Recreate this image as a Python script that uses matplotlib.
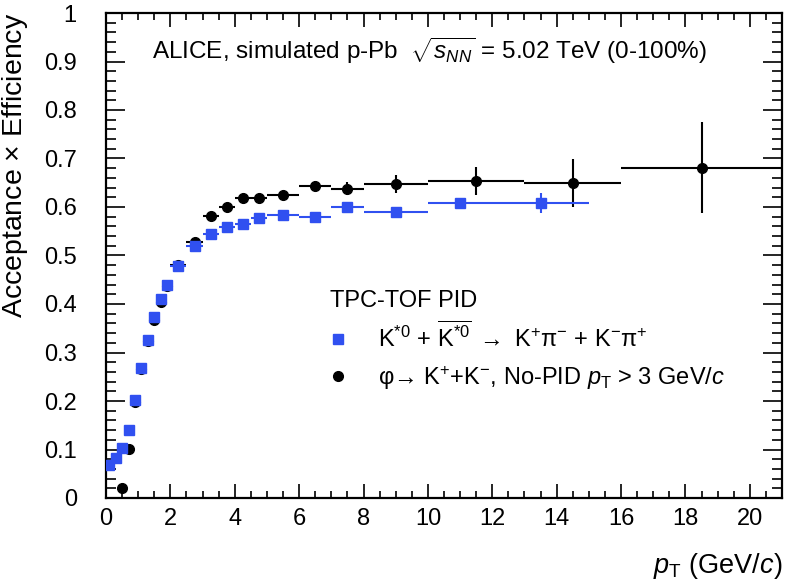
import numpy as np
import matplotlib
matplotlib.use("Agg")
import matplotlib.pyplot as plt
from matplotlib.lines import Line2D
from matplotlib.ticker import MultipleLocator, FuncFormatter

plt.rcParams["font.family"] = ["Liberation Sans", "DejaVu Sans"]
plt.rcParams["mathtext.fontset"] = "custom"
plt.rcParams["mathtext.rm"] = "Liberation Sans"
plt.rcParams["mathtext.it"] = "Liberation Sans:italic"
plt.rcParams["mathtext.bf"] = "Liberation Sans:bold"

# --- K*0 (TPC-TOF PID) ---
kstar_pt = [0.1, 0.3, 0.5, 0.7, 0.9, 1.1, 1.3, 1.5, 1.7, 1.9, 2.25, 2.75, 3.25, 3.75,
            4.25, 4.75, 5.5, 6.5, 7.5, 9.0, 11.0, 13.5]
kstar_dpt = [0.1] * 10 + [0.25] * 6 + [0.5, 0.5, 0.5, 1.0, 1.0, 1.5]
kstar_eff = [0.069, 0.083, 0.104, 0.140, 0.202, 0.269, 0.326, 0.373, 0.410, 0.439, 0.478,
             0.520, 0.544, 0.558, 0.565, 0.577, 0.584, 0.579, 0.599, 0.590, 0.608, 0.608]
kstar_err = [0.002] * 14 + [0.003, 0.003, 0.004, 0.004, 0.005, 0.005, 0.010, 0.021]

# --- phi ---
phi_pt = [0.5, 0.7, 0.9, 1.1, 1.3, 1.5, 1.7, 1.9, 2.25, 2.75, 3.25, 3.75, 4.25, 4.75,
          5.5, 6.5, 7.5, 9.0, 11.5, 14.5, 18.5]
phi_dpt = [0.1] * 8 + [0.25] * 6 + [0.5, 0.5, 0.5, 1.0, 1.5, 1.5, 2.5]
phi_eff = [0.020, 0.101, 0.198, 0.267, 0.324, 0.367, 0.405, 0.437, 0.480, 0.527, 0.581,
           0.600, 0.619, 0.618, 0.625, 0.643, 0.638, 0.647, 0.653, 0.650, 0.681]
phi_err = [0.002, 0.003, 0.003, 0.003, 0.003, 0.003, 0.004, 0.004, 0.004, 0.005, 0.006,
           0.006, 0.007, 0.008, 0.008, 0.010, 0.014, 0.019, 0.029, 0.049, 0.094]

blue = "#3050f0"
fs = 17

fig = plt.figure(figsize=(7.86, 5.87), dpi=100)
ax = fig.add_axes([106 / 786, 89 / 587, 676 / 786, 485 / 587])

ax.errorbar(phi_pt, phi_eff, xerr=phi_dpt, yerr=phi_err, fmt="o", color="black",
            ms=7, elinewidth=1.5, capsize=0, zorder=2)
ax.errorbar(kstar_pt, kstar_eff, xerr=kstar_dpt, yerr=kstar_err, fmt="s", color=blue,
            ms=7, elinewidth=1.5, capsize=0, zorder=3)

ax.set_xlim(0, 21)
ax.set_ylim(0, 1)
ax.xaxis.set_major_locator(MultipleLocator(2))
ax.xaxis.set_minor_locator(MultipleLocator(0.5))
ax.yaxis.set_major_locator(MultipleLocator(0.1))
ax.yaxis.set_minor_locator(MultipleLocator(0.02))
ax.yaxis.set_major_formatter(FuncFormatter(lambda v, p: f"{v:g}"))
ax.tick_params(which="both", direction="in", top=True, right=True, width=1.2,
               labelsize=fs)
ax.tick_params(axis="x", which="major", length=10, pad=7)
ax.tick_params(axis="x", which="minor", length=5)
ax.tick_params(axis="y", which="major", length=13.5, pad=21)
ax.tick_params(axis="y", which="minor", length=7)
for s in ax.spines.values():
    s.set_linewidth(1.6)

ax.set_xlabel(r"$p_{\mathrm{T}}$ (GeV/$c$)", fontsize=19.5, loc="right")
ax.xaxis.set_label_coords(1.0, -0.11)
ax.set_ylabel(r"Acceptance $\times$ Efficiency", fontsize=20.5, loc="top")
ax.yaxis.set_label_coords(-0.112, 1.0)

ax.text(0.068, 0.905, r"ALICE, simulated p-Pb  $\sqrt{s_{NN}}$ = 5.02 TeV (0-100%)",
        transform=ax.transAxes, fontsize=17.5, va="baseline", ha="left")
ax.text(0.331, 0.394, "TPC-TOF PID", transform=ax.transAxes, fontsize=fs,
        va="baseline", ha="left")

handles = [
    Line2D([], [], ls="none", marker="s", color=blue, ms=7),
    Line2D([], [], ls="none", marker="o", color="black", ms=7),
]
labels = [
    r"K$^{*0}$ + $\overline{\mathrm{K}^{*0}}$ $\rightarrow$ K$^{+}$π$^{-}$ + K$^{-}$π$^{+}$",
    r"φ→ K$^{+}$+K$^{-}$, No-PID $p_{\mathrm{T}}$ > 3 GeV/$c$",
]
leg = ax.legend(handles, labels, loc="upper left",
                bbox_to_anchor=(0.331, 0.365), frameon=False, fontsize=fs,
                handlelength=0.7, handletextpad=1.35, borderpad=0,
                borderaxespad=0, labelspacing=0.5)

fig.savefig("out.png", dpi=100)
